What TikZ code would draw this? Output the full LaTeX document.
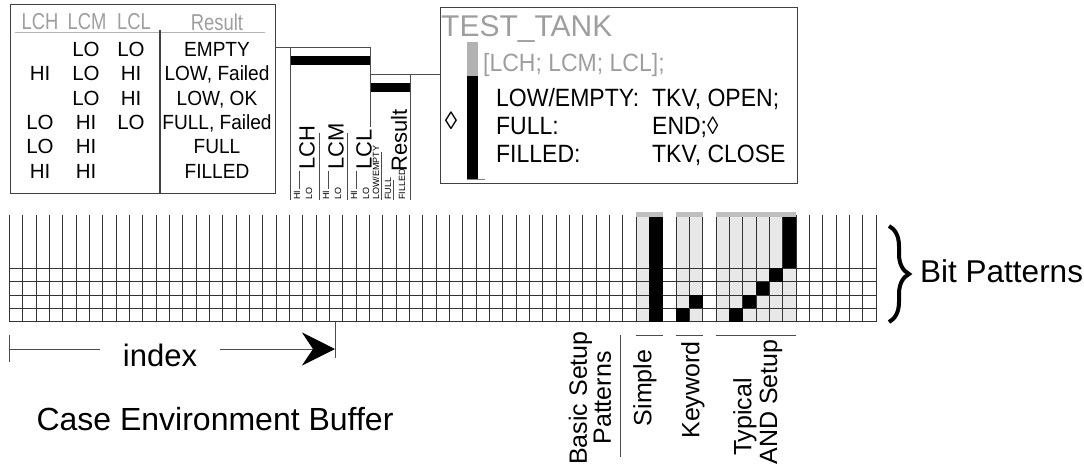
\documentclass[tikz,border=0pt]{standalone}
\usepackage{fontspec}
\setmainfont{Liberation Sans}
\usetikzlibrary{arrows.meta, positioning, decorations.pathreplacing}

\newcommand{\sz}[1]{\fontsize{#1}{#1}\selectfont}

\begin{document}
\begin{tikzpicture}[x=1pt, y=-1pt,
    every node/.style={inner sep=0pt, font=\sz{20.5}},
    frame/.style={draw=black!75, line width=1.2pt},
    wire/.style={draw=black!70, line width=1pt},
    faint/.style={text=black!38},
    hdr/.style={faint, font=\sz{23}, xscale=0.8},
    stmt/.style={anchor=base west, font=\sz{25}, xscale=0.92},
    sig/.style={rotate=90, anchor=west, font=\sz{22}},
    lvl/.style={rotate=90, anchor=west, font=\sz{9}},
    lbl/.style={rotate=90, font=\sz{25}},
    cell/.style={fill=black!9},
    topcap/.style={fill=black!25},
    gridline/.style={draw=black!80, line width=0.9pt}]
  \useasboundingbox (0,0) rectangle (1084,469);

  % truth table
  \node[frame, anchor=north west, minimum width=265pt, minimum height=189pt] (tbl) at (10,4) {};
  \node[hdr] (hlch) at (40,22) {LCH};
  \node[hdr] (hlcm) at (87,22) {LCM};
  \node[hdr] (hlcl) at (134,22) {LCL};
  \node[hdr] (hres) at (217,22) {Result};
  \draw[black!30, line width=1pt] (15,32) -- (265,32);
  \draw[frame] (160,30) -- (160,0 |- tbl.south);
  \foreach \h/\m/\l/\r [count=\i from 0] in {{}/LO/LO/EMPTY, HI/LO/HI/{LOW, Failed}, {}/LO/HI/{LOW, OK},
      LO/HI/LO/{FULL, Failed}, LO/HI/{}/FULL, HI/HI/{}/FILLED}{
    \node[anchor=base] (lch\i) at (40,56.5+24.3*\i) {\h};
    \node[anchor=base] (lcm\i) at (86,56.5+24.3*\i) {\m};
    \node[anchor=base] (lcl\i) at (131,56.5+24.3*\i) {\l};
    \node[anchor=base, xscale=0.93] (res\i) at (217,56.5+24.3*\i) {\r};
  }

  % signal bars
  \coordinate (ja) at (370,47);
  \coordinate (jb) at (410,74);
  \node[frame, anchor=north west, minimum width=357pt, minimum height=176pt] (tank) at (440,7) {};
  \draw[wire] (tbl.east |- ja) -- (ja);
  \draw[wire] (ja |- jb) -- (tank.west |- jb);
  \fill (290,56) rectangle (370,65);
  \fill (370,83) rectangle (410,92);
  \draw[wire] (290,47) -- (290,200);
  \draw[wire] (ja) -- (370,127);
  \draw[wire] (jb) -- (410,200);
  \draw[wire] (319,133) -- (319,200);
  \draw[wire] (347,133) -- (347,200);
  \foreach \x/\s in {290/LCH, 319/LCM, 347/LCL}{
    \node[sig] (s\s) at (\x+17,170) {\s};
    \node[lvl] at (\x+7,200) {HI};
    \node[lvl] at (\x+19,200) {LO};
    \draw[black!70, line width=0.6pt] (\x+9,171) -- (\x+9,189);
  }
  \node[sig] (sres) at (399,172) {Result};
  \node[lvl] (lowe) at (376,200) {LOW/EMPTY};
  \node[lvl] (full) at (388,200) {FULL};
  \node[lvl] (filled) at (402,200) {FILLED};
  \draw[black!70, line width=0.6pt] (381,152) -- (381,200);
  \draw[black!70, line width=0.6pt] (393,180) -- (393,200);

  % case statement
  \node[faint, anchor=base west, font=\sz{30}] (ttl) at (441,36.5) {TEST\_TANK};
  \fill[black!30] (467,42) rectangle (478,76);
  \fill (467,76) rectangle (478,179);
  \draw[black!50, line width=0.8pt] (467,179.5) -- (485,179.5);
  \node[stmt, faint] (sel) at (483,71) {[LCH; LCM; LCL];};
  \node[font=\sz{25}] (dia) at (451,121) {◊};
  \node[stmt] (k1) at (496,106) {LOW/EMPTY:};
  \node[stmt] (k2) at (496,134) {FULL:};
  \node[stmt] (k3) at (496,162) {FILLED:};
  \node[stmt] (a1) at (652,106) {TKV, OPEN;};
  \node[stmt] (a2) at (652,134) {END;◊};
  \node[stmt] (a3) at (652,162) {TKV, CLOSE};

  % bit pattern grid
  \begin{scope}[shift={(9.33,215)}, x=13.333pt, y=-13.333pt]
    \foreach \c in {47,50,51,53,54,...,58} \fill[cell] (\c,0) rectangle ++(1,8);
    \foreach \c in {0,...,65} \draw[gridline] (\c,0) -- (\c,8);
    \foreach \r in {4,...,8} \draw[gridline] (0,\r) -- (65,\r);
    \fill (48,0) rectangle (49,8);
    \fill (50,7) rectangle (51,8);
    \fill (51,6) rectangle (52,7);
    \fill (54,7) rectangle (55,8);
    \fill (55,6) rectangle (56,7);
    \fill (56,5) rectangle (57,6);
    \fill (57,4) rectangle (58,5);
    \fill (58,0) rectangle (59,4);
    \foreach \a/\b in {47/49, 50/52, 53/59}{
      \fill[topcap] (\a,-0.22) rectangle (\b,0.12);
      \draw[wire] (\a,9) -- (\b,9);
    }
  \end{scope}

  % pattern labels
  \node[lbl, align=center, font=\fontsize{25}{24}\selectfont] (basic) at (590,398) {Basic Setup\\Patterns};
  \draw[wire] (620,335) -- (620,457);
  \node[lbl] (simple) at (645,388) {Simple};
  \node[lbl] (keyword) at (693,390) {Keyword};
  \node[lbl] (typ) at (745,417) {Typical};
  \node[lbl] (andset) at (771,402) {AND Setup};

  % index
  \coordinate (idxL) at (9.3,349);
  \coordinate (idxR) at (335,349);
  \node[font=\sz{31}, inner xsep=23pt] (index) at (160,355) {index};
  \draw[wire] (9.3,335) -- (9.3,362);
  \draw[wire] (idxL) -- (idxL -| index.west);
  \draw[wire, -{Stealth[length=33pt, width=33pt, inset=11pt, color=black]}] (idxL -| index.east) -- (idxR);
  \draw[wire] (335,321.7) -- (335,358);

  \node[anchor=base, font=\sz{32}] (ceb) at (215,430) {Case Environment Buffer};
  \node[anchor=base west, font=\sz{31.5}] (bits) at (920,282) {Bit Patterns};
  \draw[decorate, decoration={brace, amplitude=20pt}, line width=4pt] (889,226) -- (889,322);
\end{tikzpicture}
\end{document}
